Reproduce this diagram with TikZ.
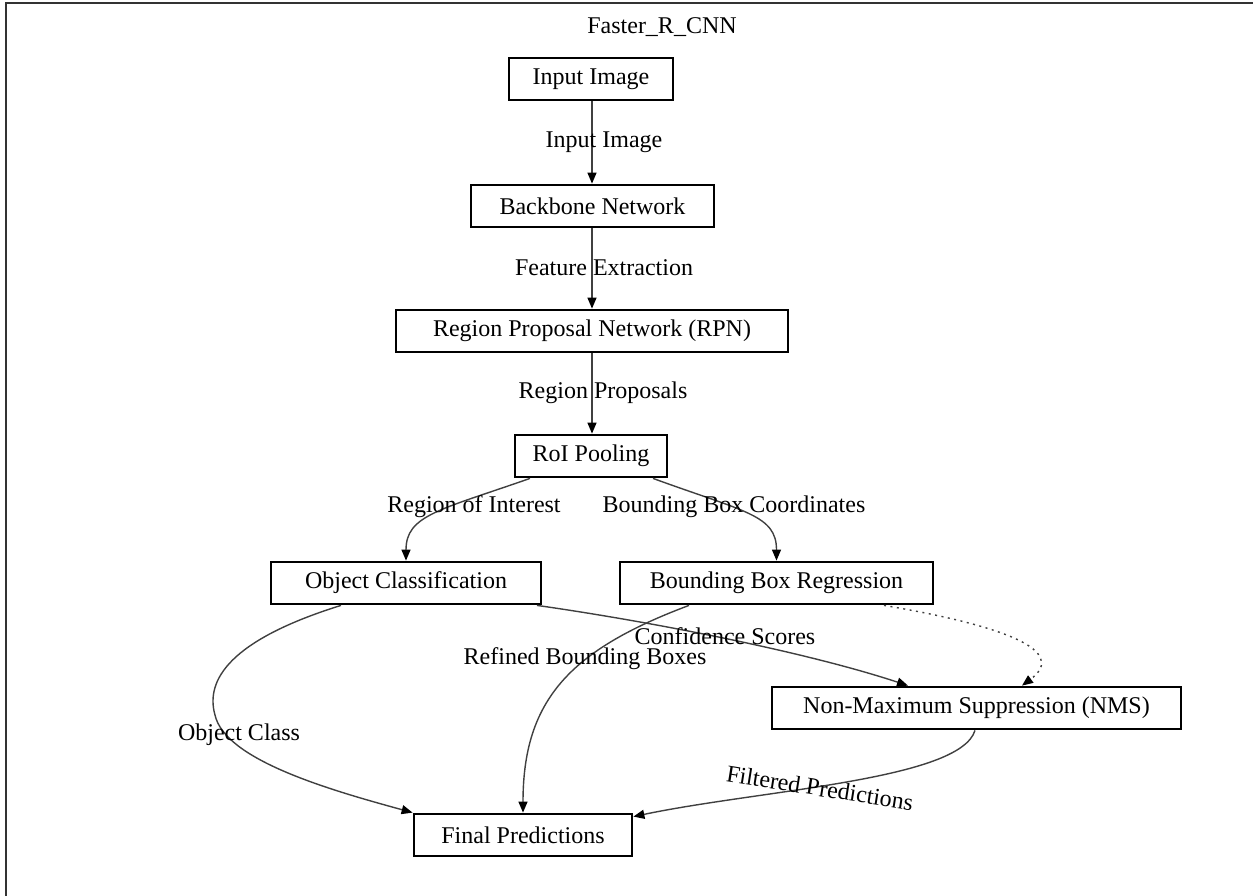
\documentclass[tikz,border=0pt]{standalone}
\usepackage{fontspec}
\setmainfont{Liberation Serif}
\usetikzlibrary{arrows.meta}
\tikzset{
  stagebox/.style={draw=black, line width=2.8pt, inner sep=0pt, minimum height=42pt, font=\fontsize{24}{28}\selectfont},
  edgeline/.style={draw=black!75, line width=1.4pt, -{Triangle[length=11pt,width=9pt,color=black]}},
  dotline/.style={edgeline, dash pattern=on 2pt off 4.5pt},
  edgelabel/.style={inner sep=0pt, font=\fontsize{24}{28}\selectfont},
  framestyle/.style={draw=black!80, line width=1.6pt}
}
\begin{document}
\begin{tikzpicture}[x=1pt,y=-1pt]
\useasboundingbox (0,0) rectangle (1253,896);
\draw[framestyle] (6,900) -- (6,3) -- (1260,3);
\node[edgelabel] (title) at (662,27) {Faster\_R\_CNN};
% nodes
\node[stagebox, minimum width=164pt] (in) at (591,79) {Input Image};
\node[stagebox, minimum width=243pt] (bb) at (592.5,206) {Backbone Network};
\node[stagebox, minimum width=392pt] (rpn) at (592,331) {Region Proposal Network (RPN)};
\node[stagebox, minimum width=152pt] (roi) at (591,456) {RoI Pooling};
\node[stagebox, minimum width=270pt] (oc) at (406,583) {Object Classification};
\node[stagebox, minimum width=313pt] (bbr) at (776.5,583) {Bounding Box Regression};
\node[stagebox, minimum width=409pt] (nms) at (976.5,708) {Non-Maximum Suppression (NMS)};
\node[stagebox, minimum width=218pt] (fin) at (523,835) {Final Predictions};
% edges
\draw[edgeline] (in.south -| rpn.south) -- (bb.north -| rpn.south);
\draw[edgeline] (bb.south -| rpn.south) -- (rpn.north);
\draw[edgeline] (rpn.south) -- (roi.north -| rpn.south);
\draw[edgeline] ([xshift=-61pt]roi.south) .. controls (440,510) and (406,515) .. (oc.north);
\draw[edgeline] ([xshift=62pt]roi.south) .. controls (745,512) and (776.5,515) .. (bbr.north);
\draw[edgeline] ([xshift=131pt]oc.south) .. controls (640,620) and (800,650) .. ([xshift=-68.5pt]nms.north);
\draw[edgeline] ([xshift=-87.5pt]bbr.south) .. controls (570,650) and (523,700) .. (fin.north);
\draw[dotline] ([xshift=107.5pt]bbr.south) .. controls (1000,625) and (1070,650) .. ([xshift=45.5pt]nms.north);
\draw[edgeline] ([xshift=-65pt]oc.south) .. controls (230,640) and (205,680) .. (215,715) .. controls (225,760) and (330,790) .. (fin.north west);
\draw[edgeline] ([xshift=-1.5pt]nms.south) .. controls (960,780) and (760,790) .. ([yshift=-4pt]fin.north east);
% edge labels
\node[edgelabel] (l1) at (604,142) {Input Image};
\node[edgelabel] (l2) at (604,268) {Feature Extraction};
\node[edgelabel] (l3) at (603,393) {Region Proposals};
\node[edgelabel] (l4) at (474,507) {Region of Interest};
\node[edgelabel] (l5) at (734,507) {Bounding Box Coordinates};
\node[edgelabel] (l6) at (725,636) {Confidence Scores};
\node[edgelabel] (l7) at (585,659) {Refined Bounding Boxes};
\node[edgelabel] (l8) at (239,735) {Object Class};
\node[edgelabel, rotate=-9] (l9) at (820,788) {Filtered Predictions};
\end{tikzpicture}
\end{document}
